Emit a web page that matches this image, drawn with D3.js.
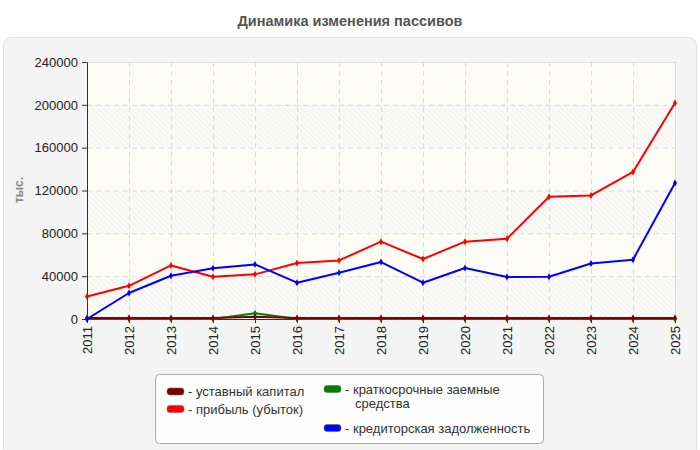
<!DOCTYPE html>
<html><head><meta charset="utf-8">
<script src="https://cdn.jsdelivr.net/npm/d3@7/dist/d3.min.js"></script>
<style>
body{margin:0;background:#fff;font-family:"Liberation Sans",Arial,sans-serif;}
svg{display:block}
</style></head>
<body>
<svg id="c" width="700" height="450"></svg>
<script>
const years = ["2011","2012","2013","2014","2015","2016","2017","2018","2019","2020","2021","2022","2023","2024","2025"];
const yTicks = [0,40000,80000,120000,160000,200000,240000];
const charterCapital = [1000,1000,1000,1000,2000,1000,1000,1000,1000,1000,1000,1000,1000,1000,1000];
const profit = [21000,31000,50000,39500,41700,52300,54700,72200,56000,72200,75000,114200,115400,137300,201700];
const shortLoans = [0,0,0,0,5400,0,0,0,0,0,0,0,0,0,0];
const payables = [0,24300,40400,47300,51000,33900,43200,53200,33900,47600,39200,39500,51900,55400,127000];
const seriesNames = ["уставный капитал","прибыль (убыток)","краткосрочные заемные средства","кредиторская задолженность"];
const seriesColors = ["#800000","#ff0000","#008000","#0000ff"];

const svg = d3.select("#c");
const L=87, R=675, T=62, B=319;

svg.append("rect").attr("x",3.5).attr("y",37.5).attr("width",693).attr("height",420).attr("rx",8)
  .attr("fill","#f4f4f4").attr("stroke","#e2e2e2");

svg.append("text").attr("x",350).attr("y",26).attr("text-anchor","middle")
  .attr("font-size",14.5).attr("font-weight","bold").attr("fill","#555")
  .text("Динамика изменения пассивов");

const defs = svg.append("defs");
const pat = defs.append("pattern").attr("id","hatch").attr("patternUnits","userSpaceOnUse")
  .attr("width",4).attr("height",4).attr("patternTransform","rotate(-45)");
pat.append("rect").attr("width",4).attr("height",4).attr("fill","#fafaf7");
pat.append("line").attr("x1",0).attr("y1",0).attr("x2",0).attr("y2",4).attr("stroke","#ededed").attr("stroke-width",1.2);

const x = d3.scalePoint().domain(years).range([L,R]);
const y = d3.scaleLinear().domain([0,240000]).range([B,T]);

svg.append("rect").attr("x",L).attr("y",T).attr("width",R-L).attr("height",B-T).attr("fill","url(#hatch)");
const bands = d3.pairs(yTicks).filter((d,i)=>i%2===1);
svg.selectAll(".band").data(bands).join("rect")
  .attr("x",L).attr("width",R-L).attr("y",d=>y(d[1])).attr("height",d=>y(d[0])-y(d[1]))
  .attr("fill","#fdfdf6").attr("opacity",0.85);

svg.selectAll(".hg").data(yTicks.slice(1,-1)).join("line")
  .attr("x1",L).attr("x2",R).attr("y1",d=>y(d)+0.5).attr("y2",d=>y(d)+0.5)
  .attr("stroke","#dcdcdc").attr("stroke-dasharray","5,4");
svg.selectAll(".vg").data(years.slice(1,-1)).join("line")
  .attr("y1",T).attr("y2",B).attr("x1",d=>x(d)+0.5).attr("x2",d=>x(d)+0.5)
  .attr("stroke","#dcdcdc").attr("stroke-dasharray","5,4");
svg.append("line").attr("x1",L).attr("x2",R).attr("y1",T+0.5).attr("y2",T+0.5).attr("stroke","#dcdcdc");
svg.append("line").attr("x1",R+0.5).attr("x2",R+0.5).attr("y1",T).attr("y2",B).attr("stroke","#dcdcdc");

const ya = svg.append("g").attr("transform",`translate(${L},0)`)
  .call(d3.axisLeft(y).tickValues(yTicks).tickFormat(d3.format("d")).tickSize(5).tickSizeOuter(0));
ya.select(".domain").attr("stroke","#333");
ya.selectAll(".tick line").attr("stroke","#333");
ya.selectAll("text").attr("font-size",13).attr("fill","#222").attr("font-family","Liberation Sans, Arial").attr("dx","-1");

const xa = svg.append("g").attr("transform",`translate(0,${B})`)
  .call(d3.axisBottom(x).tickSize(4).tickSizeOuter(0));
xa.select(".domain").attr("stroke","#333");
xa.selectAll(".tick line").attr("stroke","#333");
xa.selectAll("text").attr("font-size",13).attr("fill","#222").attr("font-family","Liberation Sans, Arial")
  .attr("transform","rotate(-90)").attr("text-anchor","end").attr("x",-7).attr("y",0).attr("dy","0.35em");

svg.append("text").attr("transform","translate(23,190) rotate(-90)").attr("text-anchor","middle")
  .attr("font-size",12).attr("font-weight","bold").attr("fill","#888").text("тыс.");

const data = [charterCapital, profit, shortLoans, payables];
const order = [2,0,1,3];
const line = d3.line().x((d,i)=>x(years[i])).y(d=>y(d));
const sym = d3.symbol().type(d3.symbolDiamond).size(14);
order.forEach(k=>{
  const g = svg.append("g");
  g.append("path").datum(data[k]).attr("d",line).attr("fill","none")
    .attr("stroke",seriesColors[k]).attr("stroke-width",2).attr("stroke-linejoin","round");
  g.selectAll("path.m").data(data[k]).join("path").attr("class","m")
    .attr("d",sym).attr("transform",(d,i)=>`translate(${x(years[i])},${y(d)})`)
    .attr("fill",seriesColors[k]);
});

svg.append("rect").attr("x",155.5).attr("y",374.5).attr("width",388).attr("height",69).attr("rx",4)
  .attr("fill","#fdfdfd").attr("stroke","#aaa");
const leg = [
  {k:0, x:167, y:391.5, lines:["- "+seriesNames[0]]},
  {k:1, x:167, y:409, lines:["- "+seriesNames[1]]},
  {k:2, x:324, y:389, lines:["- краткосрочные заемные","средства"]},
  {k:3, x:324, y:428, lines:["- "+seriesNames[3]]}
];
leg.forEach(e=>{
  svg.append("rect").attr("x",e.x).attr("y",e.y-3.5).attr("width",17).attr("height",7).attr("rx",3)
    .attr("fill",seriesColors[e.k]).attr("stroke","#666").attr("stroke-width",0.6);
  e.lines.forEach((t,i)=>{
    svg.append("text").attr("x",e.x+(i>0?31:21)).attr("y",e.y+i*14).attr("dy","0.35em")
      .attr("font-size",13).attr("fill","#333").text(t);
  });
});
</script>
</body></html>
